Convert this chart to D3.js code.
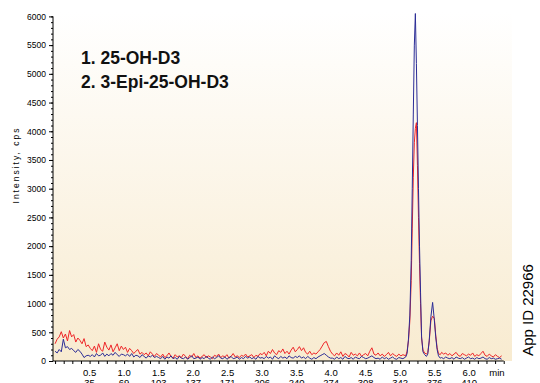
<!DOCTYPE html>
<html>
<head>
<meta charset="utf-8">
<script src="https://cdn.jsdelivr.net/npm/d3@7"></script>
<style>
  body { margin: 0; background: #fff; }
  svg { display: block; font-family: "Liberation Sans", Arial, sans-serif; }
</style>
</head>
<body>
<svg id="chart" width="540" height="383"></svg>
<script>
// scans before / after the peaks are read every 0.03 min
const step = 0.03;
const earlyStart = 0.0;
const lateStart = 5.60;

// XIC 1 (red) and XIC 2 (blue), cps
const redEarly = [
  300, 380, 420, 510, 400, 470, 350, 530, 420, 460, 330, 400, 360, 300, 390, 250, 280,
  220, 180, 260, 150, 300, 200, 170, 330, 240, 190, 280, 160, 230, 300, 180, 260,
  200, 240, 150, 220, 180, 130, 170, 200, 120, 150, 110, 140, 90, 160, 120, 80, 130,
  100, 70, 120, 60, 90, 140, 80, 50, 110, 70, 90, 60, 120, 80, 40, 100, 70, 130, 60, 90,
  50, 80, 110, 60, 90, 70, 40, 100, 80, 120, 60, 90, 70, 110, 50, 80, 130, 70, 90, 60,
  100, 80, 120, 70, 90, 110, 60, 100, 80, 130,
  110, 150, 90, 170, 130, 200, 140, 110, 180, 150, 210, 130, 170, 120, 190, 240, 160,
  200, 250, 180, 230, 150, 120, 170, 110, 140, 120, 160, 200, 260, 320, 340, 250, 170,
  120, 90, 140, 100, 160, 80, 130, 110, 70, 150, 100, 120, 90, 140, 80, 110, 130, 90,
  170, 230, 120, 100, 140, 90, 120, 80, 110, 150, 90, 130, 100, 80, 120, 90, 110
];
const blueEarly = [
  170, 140, 200, 160, 380, 230, 250, 200, 220, 180, 150, 200, 170, 120, 60, 90, 100,
  80, 110, 70, 130, 90, 100, 140, 80, 120, 90, 130, 100, 150, 110, 80, 120,
  110, 90, 120, 80, 130, 70, 100, 90, 60, 110, 80, 50, 90, 70, 100, 60, 80,
  60, 40, 80, 30, 70, 50, 90, 40, 60, 30, 80, 50, 40, 70, 30, 60, 90, 40, 50, 70,
  30, 60, 40, 80, 50, 30, 70, 40, 60, 90, 50, 40, 70, 30, 60, 80, 40, 50, 70, 30,
  60, 40, 80, 50, 70, 40, 60, 30, 80, 50,
  60, 40, 80, 50, 70, 30, 90, 60, 40, 80, 50, 70, 40, 90, 60, 50, 80,
  60, 90, 50, 70, 40, 80, 50, 30, 60, 40, 70, 90, 110, 130, 100, 70, 50,
  50, 30, 70, 40, 60, 30, 80, 50, 40, 60, 30, 70, 50, 40, 80, 60, 40, 50,
  70, 90, 60, 40, 50, 30, 70, 40, 60, 30, 50, 70, 40, 30, 60, 50, 40
];

// peak region, read more finely
const peakTimes = [5.08, 5.10, 5.12, 5.14, 5.16, 5.175, 5.19, 5.205, 5.22, 5.235, 5.25, 5.265, 5.28, 5.295,
  5.31, 5.33, 5.355, 5.38, 5.40, 5.42, 5.445, 5.47, 5.495, 5.515, 5.535, 5.555, 5.58];
const redPeak = [90, 170, 350, 700, 1400, 2300, 3200, 3800, 4050, 4150, 3400, 2500, 1700, 1000,
  400, 190, 140, 120, 150, 330, 700, 780, 740, 450, 230, 130, 110];
const bluePeak = [70, 130, 380, 800, 1750, 3000, 4300, 5500, 6050, 5180, 4100, 3000, 2000, 1200,
  420, 160, 110, 80, 120, 350, 770, 1020, 710, 420, 200, 90, 50];

const redLate = [150, 120, 140, 100, 130, 90, 120, 150, 100, 80, 130, 110, 90, 120, 100,
  140, 80, 110, 90, 130, 170, 100, 80, 120, 90, 70, 110, 80, 60, 90];
const blueLate = [60, 40, 70, 50, 40, 60, 30, 70, 50, 40, 60, 30, 50, 70, 40,
  50, 30, 60, 40, 50, 70, 40, 30, 60, 40, 50, 30, 40, 50, 30];

// axis labels
const yTicks = [0, 500, 1000, 1500, 2000, 2500, 3000, 3500, 4000, 4500, 5000, 5500, 6000];
const xTicks = [0.5, 1.0, 1.5, 2.0, 2.5, 3.0, 3.5, 4.0, 4.5, 5.0, 5.5, 6.0];
const scanLabels = [35, 69, 103, 137, 171, 206, 240, 274, 308, 342, 376, 410];
const peakNames = ["1. 25-OH-D3", "2. 3-Epi-25-OH-D3"];

function build(early, peak, late) {
  const pts = [];
  early.forEach((v, i) => pts.push({ t: earlyStart + i * step, v: v }));
  peak.forEach((v, i) => pts.push({ t: peakTimes[i], v: v }));
  late.forEach((v, i) => pts.push({ t: lateStart + i * step, v: v }));
  return pts;
}
const red = build(redEarly, redPeak, redLate);
const blue = build(blueEarly, bluePeak, blueLate);

const svg = d3.select("#chart");
const plotL = 53, plotR = 512, plotT = 16.4, plotB = 361;

const x = d3.scaleLinear().domain([-0.03, 6.62]).range([plotL, plotR]);
const y = d3.scaleLinear().domain([0, 6000]).range([plotB, plotT]);

// background gradient
const grad = svg.append("defs").append("linearGradient")
  .attr("id", "bg").attr("x1", 0).attr("y1", 0).attr("x2", 0).attr("y2", 1);
grad.append("stop").attr("offset", "0%").attr("stop-color", "#ffffff");
grad.append("stop").attr("offset", "100%").attr("stop-color", "#f8ebd0");

svg.append("rect")
  .attr("x", plotL).attr("y", 12)
  .attr("width", plotR - plotL).attr("height", plotB - 12)
  .attr("fill", "url(#bg)");

// traces
const line = d3.line().x(d => x(d.t)).y(d => y(d.v));
svg.append("path").datum(red)
  .attr("d", line).attr("fill", "none")
  .attr("stroke", "#ee2528").attr("stroke-width", 1);
svg.append("path").datum(blue)
  .attr("d", line).attr("fill", "none")
  .attr("stroke", "#2b2c96").attr("stroke-width", 1);

// y axis: minor every 100, labelled every 500
svg.append("g")
  .attr("transform", `translate(${plotL},0)`)
  .call(d3.axisLeft(y).tickValues(d3.range(0, 6001, 100)).tickSize(2).tickFormat(""))
  .call(g => g.select(".domain").remove());
const yAxis = svg.append("g")
  .attr("transform", `translate(${plotL},0)`)
  .call(d3.axisLeft(y).tickValues(yTicks).tickSize(4).tickPadding(3).tickFormat(d3.format("d")));
yAxis.select(".domain").attr("d", `M0,${plotB}V${plotT}`).attr("stroke", "#000");
yAxis.selectAll("text").attr("font-size", 8.5).attr("font-family", "Liberation Sans, Arial, sans-serif");

// x axis
const xAxis = svg.append("g")
  .attr("transform", `translate(0,${plotB})`)
  .call(d3.axisBottom(x).tickValues(d3.range(0, 6.51, 0.125)).tickSize(3).tickFormat(""));
xAxis.select(".domain").attr("d", `M${plotL},0H${x(6.5)}`);

svg.append("g").selectAll("text").data(xTicks).join("text")
  .attr("x", d => x(d)).attr("y", 376)
  .attr("text-anchor", "middle").attr("font-size", 9.5)
  .text(d => d.toFixed(1));
svg.append("g").selectAll("text").data(scanLabels).join("text")
  .attr("x", (d, i) => x(xTicks[i])).attr("y", 385.5)
  .attr("text-anchor", "middle").attr("font-size", 9.5)
  .text(d => d);
svg.append("text")
  .attr("x", 497).attr("y", 376)
  .attr("text-anchor", "middle").attr("font-size", 9.5)
  .text("min");

// y title
svg.append("text")
  .attr("transform", "translate(19,165) rotate(-90)")
  .attr("text-anchor", "middle").attr("font-size", 8.5)
  .attr("letter-spacing", 2)
  .text("Intensity, cps");

// peak legend
svg.append("g").selectAll("text").data(peakNames).join("text")
  .attr("x", 81).attr("y", (d, i) => 64 + i * 23.5)
  .attr("font-size", 17.5).attr("font-weight", "bold")
  .attr("fill", "#111")
  .text(d => d);

// app id
svg.append("text")
  .attr("transform", "translate(533,310) rotate(-90)")
  .attr("text-anchor", "middle").attr("font-size", 15)
  .text("App ID 22966");
</script>
</body>
</html>
